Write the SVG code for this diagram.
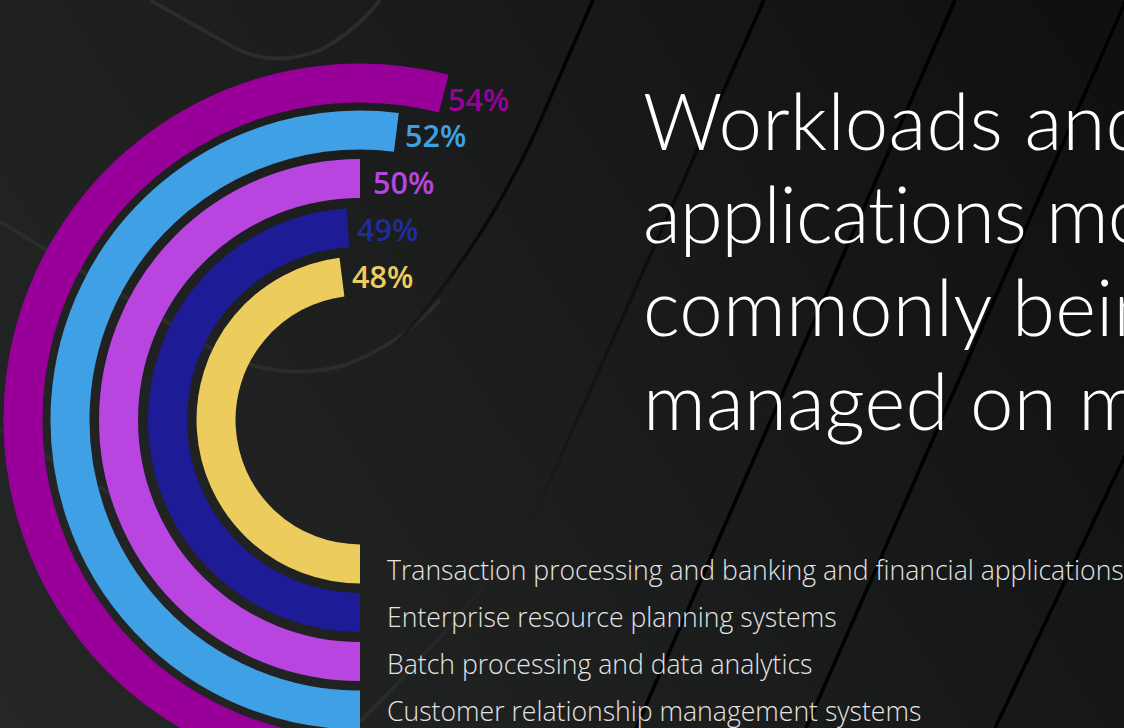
<svg xmlns="http://www.w3.org/2000/svg" width="1124" height="728" viewBox="0 0 1124 728">
  <defs>
    <linearGradient id="bg" x1="0" y1="728" x2="1124" y2="0" gradientUnits="userSpaceOnUse">
      <stop offset="0" stop-color="#252626"/>
      <stop offset="0.45" stop-color="#1c1d1d"/>
      <stop offset="1" stop-color="#0e0f10"/>
    </linearGradient>
    <linearGradient id="fadeLine" x1="0" y1="0" x2="0" y2="728" gradientUnits="userSpaceOnUse">
      <stop offset="0" stop-color="#000"/>
      <stop offset="0.6" stop-color="#151616"/>
      <stop offset="1" stop-color="#2c2d2d"/>
    </linearGradient>
    <linearGradient id="fadeCurve" x1="0" y1="0" x2="0" y2="350" gradientUnits="userSpaceOnUse">
      <stop offset="0" stop-color="#000"/>
      <stop offset="0.7" stop-color="#0a0a0a"/>
      <stop offset="1" stop-color="#1d1e1e"/>
    </linearGradient>
  </defs>
  <style>
    .ring { fill: none; stroke-width: 39; stroke-linecap: butt; }
    .pct { font-family: "Open Sans", "Liberation Sans", sans-serif; font-weight: 600; font-size: 30.5px; }
    .legend { font-family: "Open Sans", "Liberation Sans", sans-serif; font-weight: 300; font-size: 26.6px; fill: #e4e4e4; }
    .title { font-family: Lato, "Liberation Sans", sans-serif; font-weight: 300; font-size: 78px; fill: #ffffff; font-variant-ligatures: none; font-feature-settings: "liga" 0, "clig" 0, "calt" 0, "dlig" 0; letter-spacing: 0.2px; }
    .tight { letter-spacing: -1.1px; }
    .dark { fill: none; stroke: #000; stroke-width: 3.5; }
    .light { fill: none; stroke: #2b2c2c; stroke-width: 4; }
  </style>

  <!-- background -->
  <rect x="0" y="0" width="1124" height="728" fill="url(#bg)"/>
  <g id="background-lines">
    <path class="light" d="M150,0 L235,48 Q275,68 320,50 Q355,32 380,0"/>
    <path class="light" d="M0,222 L205,345 Q275,385 345,365 Q400,345 440,300"/>
    <path class="light" d="M0,430 L130,505"/>
    <path fill="none" stroke="url(#fadeCurve)" stroke-width="3.5" d="M593,0 L545,110 Q490,240 395,345"/>
    <path fill="none" stroke="url(#fadeLine)" stroke-width="3.5" d="M764,0 L548,485 Q515,565 360,722"/>
    <path class="dark" d="M955,0 L636,728"/>
    <path class="dark" d="M1126,0 L806,728"/>
    <path class="dark" d="M1135,435 L995,728"/>
  </g>

  <!-- series -->
  <g id="series-crm">
    <path class="ring" stroke="#990099" d="M360,757 A337,337 0 1 1 443.81,93.59"/>
    <text class="pct" x="448" y="111" fill="#990099">54%</text>
  </g>
  <g id="series-batch">
    <path class="ring" stroke="#40A0E6" d="M360,710 A290,290 0 1 1 396.35,132.29"/>
    <text class="pct" x="405" y="147" fill="#40A0E6">52%</text>
  </g>
  <g id="series-purple">
    <path class="ring" stroke="#B845E0" d="M360,661.5 A241.5,241.5 0 0 1 360,178.5"/>
    <text class="pct" x="373" y="194" fill="#B845E0">50%</text>
  </g>
  <g id="series-erp">
    <path class="ring" stroke="#1E1B96" d="M360,612.5 A192.5,192.5 0 0 1 347.91,227.88"/>
    <text class="pct" x="357" y="241" fill="#1F2C9C">49%</text>
  </g>
  <g id="series-transaction">
    <path class="ring" stroke="#EDCC5E" d="M360,564 A144,144 0 0 1 341.95,277.14"/>
    <text class="pct" x="352" y="288" fill="#EDCC5E">48%</text>
  </g>

  <!-- legend -->
  <g id="legend">
    <text class="legend" x="387" y="580">Transaction processing and banking and financial applications</text>
    <text class="legend" x="387" y="627">Enterprise resource planning systems</text>
    <text class="legend" x="387" y="674">Batch processing and data analytics</text>
    <text class="legend" x="387" y="721">Customer relationship management systems</text>
  </g>

  <!-- title -->
  <g id="title">
    <text class="title" x="643" y="150">Workloads and</text>
    <text class="title tight" x="643" y="243">applications most</text>
    <text class="title" x="643" y="336">commonly being</text>
    <text class="title" x="643" y="430">managed on mainframe</text>
  </g>
</svg>
